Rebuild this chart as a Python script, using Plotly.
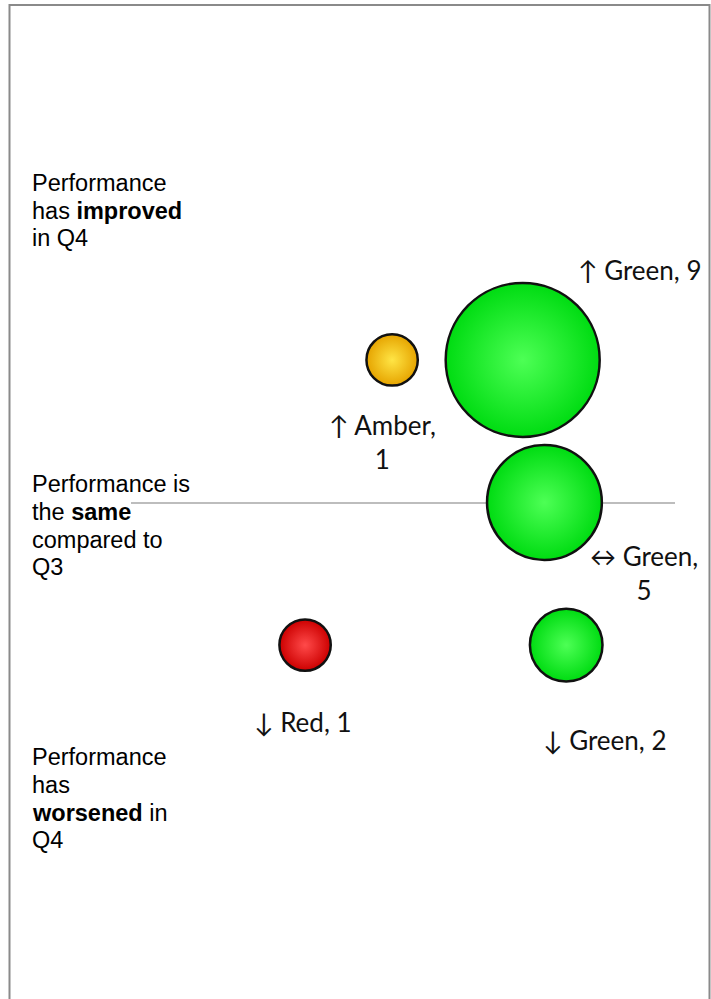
import plotly.graph_objects as go

# ---------------- data ----------------
rag_status = ["Green", "Amber", "Green", "Red", "Green"]
trend = ["up", "up", "same", "down", "down"]
counts = [9, 1, 5, 1, 2]
x_vals = [7.2, 4.8, 7.6, 3.2, 8.0]
y_vals = [1, 1, 0, -1, -1]

row_text = [
    ["Performance", "has <b>improved</b>", "in Q4"],
    ["Performance is", "the <b>same</b>", "compared to", "Q3"],
    ["Performance", "has", "<b>worsened</b> in", "Q4"],
]

# ---------------- styling ----------------
W, H = 711, 999
ML, MR, MT, MB = 131, 36, 146, 140
PW, PH = W - ML - MR, H - MT - MB

arrow_sym = {"up": "\u2191", "same": "\u2194", "down": "\u2193"}
fill_center = {"Green": "#4dff55", "Amber": "#ffe545", "Red": "#ff4a4a"}
fill_edge = {"Green": "#00dc12", "Amber": "#e6a400", "Red": "#cc0000"}
label_wrap = [False, True, True, False, False]
label_shift = [(117, 90), (-10, -82), (100, -70), (-2, -77), (38, -95)]

max_diam = 154
sizeref = 2.0 * max(counts) / max_diam ** 2


def px2paper(px, py):
    return (px - ML) / PW, (H - MB - py) / PH


fig = go.Figure()
fig.add_trace(go.Scatter(
    x=x_vals, y=y_vals, mode="markers",
    marker=dict(
        size=counts, sizemode="area", sizeref=sizeref,
        color=[fill_edge[c] for c in rag_status],
        gradient=dict(type="radial", color=[fill_center[c] for c in rag_status]),
        line=dict(color="#111111", width=2.5),
        opacity=1,
    ),
    hoverinfo="skip", showlegend=False, cliponaxis=False,
))

annotations = []
for i in range(len(counts)):
    sep = ",<br>" if label_wrap[i] else ", "
    txt = f"{arrow_sym[trend[i]]} {rag_status[i]}{sep}{counts[i]}"
    dx, dy = label_shift[i]
    annotations.append(dict(
        x=x_vals[i], y=y_vals[i], xref="x", yref="y", text=txt,
        showarrow=False, xshift=dx, yshift=dy, align="center",
        xanchor="center", yanchor="middle",
        font=dict(family="Lato, Open Sans, sans-serif", size=26, color="#111111"),
    ))

# left-hand row descriptions, one annotation per line
row_baselines = [[191, 218.5, 246], [492, 520, 547.5, 575], [765, 793, 821, 848]]
for lines, bases in zip(row_text, row_baselines):
    for line, b in zip(lines, bases):
        px, py = px2paper(30, b - 8)
        annotations.append(dict(
            x=px, y=py, xref="paper", yref="paper", text=line,
            showarrow=False, xanchor="left", yanchor="middle", align="left",
            font=dict(family="Arial, 'Liberation Sans', sans-serif", size=23.5, color="#000000"),
        ))

x0, y0 = px2paper(9.5, 5)
x1, y1 = px2paper(709.5, 1010)
shapes = [dict(type="rect", xref="paper", yref="paper", x0=x0, y0=y1, x1=x1, y1=y0,
               line=dict(color="#8a8a8a", width=2), fillcolor="rgba(0,0,0,0)", layer="below")]

fig.update_layout(
    width=W, height=H,
    margin=dict(l=ML, r=MR, t=MT, b=MB),
    paper_bgcolor="white", plot_bgcolor="white",
    xaxis=dict(range=[0, 10], visible=False, showgrid=False, zeroline=False),
    yaxis=dict(range=[-2.5, 2.5], showgrid=False, showticklabels=False, ticks="",
               showline=False, zeroline=True, zerolinecolor="#bdbdbd", zerolinewidth=2),
    annotations=annotations, shapes=shapes,
    showlegend=False,
)

fig.write_html("out.html", config={"displayModeBar": False})
